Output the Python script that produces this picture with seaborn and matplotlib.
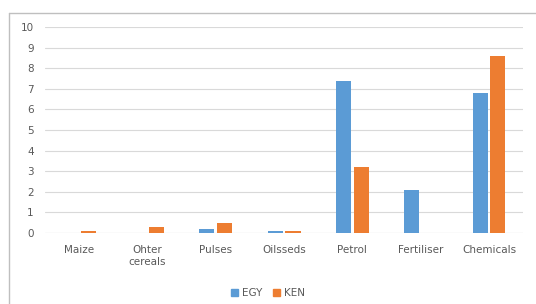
import pandas as pd
import numpy as np
import matplotlib
matplotlib.use("Agg")
import matplotlib.pyplot as plt
from matplotlib.lines import Line2D
import seaborn as sns

# Chart data
categories = ['Maize', 'Ohter\ncereals', 'Pulses', 'Oilsseds', 'Petrol', 'Fertiliser', 'Chemicals']
egy = [0, 0, 0.2, 0.1, 7.4, 2.1, 6.8]
ken = [0.1, 0.3, 0.5, 0.1, 3.2, 0, 8.6]
series = ['EGY', 'KEN']
colors = ['#5B9BD5', '#ED7D31']

df = pd.DataFrame({
    'Category': categories * 2,
    'Value': egy + ken,
    'Country': ['EGY'] * len(categories) + ['KEN'] * len(categories),
})

sns.set_style('white')
plt.rcParams['font.family'] = ['DejaVu Sans']

fig = plt.figure(figsize=(5.36, 3.04), dpi=100)
ax = fig.add_axes([0.084, 0.2336, 0.892, 0.6775])

sns.barplot(data=df, x='Category', y='Value', hue='Country', hue_order=series,
            palette=colors, width=0.52, gap=0.15, saturation=1, ax=ax,
            edgecolor='none', legend=True)

ax.set_ylim(0, 10)
ax.set_xlim(-0.5, 6.5)
ax.set_yticks(np.arange(0, 11, 1))
ax.yaxis.grid(True, color='#D9D9D9', linewidth=0.8)
ax.set_axisbelow(True)
for s in ax.spines.values():
    s.set_visible(False)
ax.axhline(0, color='#D9D9D9', linewidth=0.8, zorder=0.5)
ax.set_xlabel('')
ax.set_ylabel('')
ax.tick_params(axis='both', length=0, labelsize=7.5, labelcolor='#595959')
ax.tick_params(axis='y', pad=8)
ax.tick_params(axis='x', pad=9)

ax.legend_.remove()
handles = [plt.Rectangle((0, 0), 1, 1, color=c) for c in colors]
fig.legend(handles, series, loc='center', bbox_to_anchor=(0.5, 0.036), ncol=2,
           frameon=False, fontsize=7.5, labelcolor='#595959', handlelength=0.7,
           handleheight=0.7, handletextpad=0.4, columnspacing=1.0)

# outer chart border (top and left visible)
fig.add_artist(Line2D([0.017, 0.017], [0.0, 0.957], color='#BFBFBF', linewidth=1))
fig.add_artist(Line2D([0.017, 1.0], [0.957, 0.957], color='#BFBFBF', linewidth=1))

fig.savefig('out.png', dpi=100)
